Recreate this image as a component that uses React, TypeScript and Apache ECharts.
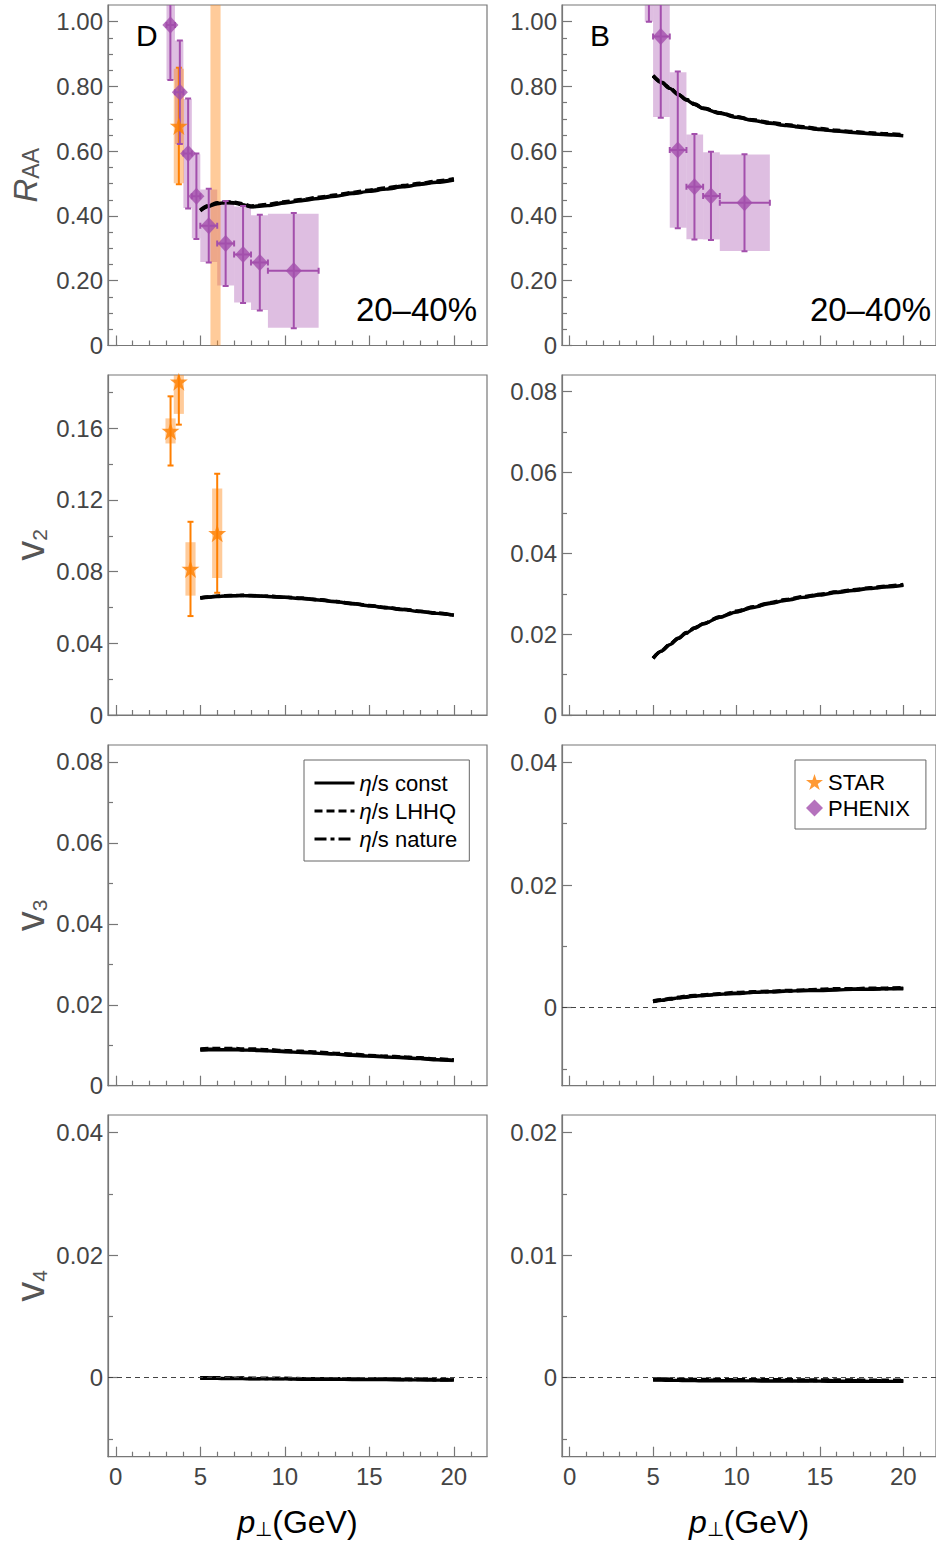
import React, { useEffect, useRef } from 'react';
import * as echarts from 'echarts';

const FONT = '"Liberation Sans", Arial, Helvetica, sans-serif';
const AXIS = '#777';
const LABEL = '#444';
const PURPLE = '#a34fac';
const PURPLE_BOX = 'rgba(167, 84, 176, 0.38)';
const ORANGE = '#ff7f00';
const ORANGE_BOX = 'rgba(255, 140, 30, 0.45)';
const STAR_PATH =
    'path://M50,0 L61.2,34.5 L97.6,34.5 L68.2,55.9 L79.4,90.5 L50,69.1 L20.6,90.5 L31.8,55.9 L2.4,34.5 L38.8,34.5 Z';

// x axis ticks (pT, GeV)
const xMajor = [0, 5, 10, 15, 20];
const xMinor = [1, 2, 3, 4, 6, 7, 8, 9, 11, 12, 13, 14, 16, 17, 18, 19, 21];

// y axis ticks
const raaMajor = [0, 0.2, 0.4, 0.6, 0.8, 1.0];
const raaMinor = [0.05, 0.1, 0.15, 0.25, 0.3, 0.35, 0.45, 0.5, 0.55, 0.65, 0.7, 0.75, 0.85, 0.9, 0.95];
const v2DMajor = [0, 0.04, 0.08, 0.12, 0.16];
const v2DMinor = [0.02, 0.06, 0.1, 0.14, 0.18];
const v2BMajor = [0, 0.02, 0.04, 0.06, 0.08];
const v2BMinor = [0.01, 0.03, 0.05, 0.07];
const v3DMajor = [0, 0.02, 0.04, 0.06, 0.08];
const v3DMinor = [0.01, 0.03, 0.05, 0.07];
const v3BMajor = [0, 0.02, 0.04];
const v3BMinor = [-0.01, 0.01, 0.03];
const v4DMajor = [0, 0.02, 0.04];
const v4DMinor = [-0.01, 0.01, 0.03];
const v4BMajor = [0, 0.01, 0.02];
const v4BMinor = [-0.005, 0.005, 0.015];

// model curves, pT grid
const curvePt = [5, 5.5, 6, 6.5, 7, 7.5, 8, 9, 10, 11, 12, 13, 14, 15, 16, 17, 18, 19, 20];

const raaDConst = [0.416, 0.43, 0.438, 0.441, 0.44, 0.435, 0.428, 0.432, 0.44, 0.447, 0.454, 0.461, 0.469, 0.476, 0.483, 0.49, 0.497, 0.504, 0.511];
const raaDLhhq = [0.419, 0.433, 0.441, 0.444, 0.443, 0.438, 0.431, 0.436, 0.444, 0.451, 0.458, 0.465, 0.473, 0.48, 0.487, 0.494, 0.501, 0.508, 0.515];
const raaDNature = [0.417, 0.431, 0.439, 0.442, 0.441, 0.436, 0.429, 0.434, 0.442, 0.449, 0.456, 0.463, 0.471, 0.478, 0.485, 0.492, 0.499, 0.506, 0.513];

const raaBConst = [0.832, 0.812, 0.794, 0.775, 0.758, 0.744, 0.732, 0.717, 0.705, 0.695, 0.686, 0.679, 0.673, 0.667, 0.662, 0.658, 0.654, 0.651, 0.648];
const raaBLhhq = [0.834, 0.814, 0.796, 0.777, 0.76, 0.746, 0.734, 0.719, 0.707, 0.697, 0.689, 0.682, 0.676, 0.67, 0.665, 0.661, 0.657, 0.654, 0.651];
const raaBNature = [0.833, 0.813, 0.795, 0.776, 0.759, 0.745, 0.733, 0.718, 0.706, 0.696, 0.687, 0.68, 0.674, 0.668, 0.663, 0.659, 0.655, 0.652, 0.649];

const v2DConst = [0.0652, 0.0657, 0.0661, 0.0664, 0.0665, 0.0666, 0.0665, 0.0661, 0.0656, 0.065, 0.0642, 0.0632, 0.0621, 0.0609, 0.0598, 0.0588, 0.0577, 0.0567, 0.0556];
const v2DLhhq = [0.0654, 0.0659, 0.0663, 0.0666, 0.0667, 0.0668, 0.0667, 0.0663, 0.0658, 0.0652, 0.0644, 0.0634, 0.0623, 0.0611, 0.06, 0.059, 0.0579, 0.0569, 0.0558];
const v2DNature = [0.0653, 0.0658, 0.0662, 0.0665, 0.0666, 0.0667, 0.0666, 0.0662, 0.0657, 0.0651, 0.0643, 0.0633, 0.0622, 0.061, 0.0599, 0.0589, 0.0578, 0.0568, 0.0557];

const v2BConst = [0.014, 0.0158, 0.0174, 0.0189, 0.0203, 0.0215, 0.0225, 0.0242, 0.0255, 0.0266, 0.0276, 0.0284, 0.0291, 0.0297, 0.0303, 0.0308, 0.0313, 0.0317, 0.0321];
const v2BLhhq = [0.0141, 0.0159, 0.0175, 0.019, 0.0204, 0.0216, 0.0226, 0.0243, 0.0257, 0.0268, 0.0278, 0.0286, 0.0293, 0.0299, 0.0305, 0.031, 0.0315, 0.0319, 0.0323];
const v2BNature = [0.014, 0.0158, 0.0174, 0.019, 0.0203, 0.0215, 0.0226, 0.0242, 0.0256, 0.0267, 0.0277, 0.0285, 0.0292, 0.0298, 0.0304, 0.0309, 0.0314, 0.0318, 0.0322];

const v3DConst = [0.0088, 0.0089, 0.0089, 0.0089, 0.0089, 0.0088, 0.0088, 0.0086, 0.0084, 0.0082, 0.008, 0.0078, 0.0075, 0.0073, 0.0071, 0.0069, 0.0067, 0.0064, 0.0062];
const v3DLhhq = [0.0091, 0.0092, 0.0092, 0.0092, 0.0092, 0.0091, 0.0091, 0.0089, 0.0087, 0.0085, 0.0083, 0.008, 0.0078, 0.0075, 0.0073, 0.0071, 0.0069, 0.0066, 0.0064];
const v3DNature = [0.0089, 0.009, 0.009, 0.009, 0.009, 0.0089, 0.0089, 0.0087, 0.0085, 0.0083, 0.0081, 0.0079, 0.0076, 0.0074, 0.0072, 0.007, 0.0068, 0.0065, 0.0063];

const v3BConst = [0.001, 0.0012, 0.0014, 0.0016, 0.0017, 0.0019, 0.002, 0.0022, 0.0023, 0.0025, 0.0026, 0.0027, 0.0028, 0.0028, 0.0029, 0.003, 0.003, 0.0031, 0.0031];
const v3BLhhq = [0.0011, 0.0013, 0.0015, 0.0017, 0.0019, 0.002, 0.0021, 0.0023, 0.0025, 0.0026, 0.0027, 0.0028, 0.0029, 0.003, 0.0031, 0.0031, 0.0032, 0.0032, 0.0033];
const v3BNature = [0.001, 0.0012, 0.0014, 0.0016, 0.0018, 0.0019, 0.002, 0.0022, 0.0024, 0.0025, 0.0026, 0.0027, 0.0028, 0.0029, 0.003, 0.003, 0.0031, 0.0031, 0.0032];

const v4DConst = [-0.0001, -0.0001, -0.0001, -0.00015, -0.00015, -0.00015, -0.0002, -0.0002, -0.0002, -0.00025, -0.00025, -0.00025, -0.0003, -0.0003, -0.0003, -0.00035, -0.00035, -0.0004, -0.0004];
const v4DLhhq = [0, 0, 0, -0.00005, -0.00005, -0.00005, -0.0001, -0.0001, -0.0001, -0.00015, -0.00015, -0.00015, -0.0002, -0.0002, -0.0002, -0.00025, -0.00025, -0.0003, -0.0003];
const v4DNature = [-0.00005, -0.00005, -0.00005, -0.0001, -0.0001, -0.0001, -0.00015, -0.00015, -0.00015, -0.0002, -0.0002, -0.0002, -0.00025, -0.00025, -0.00025, -0.0003, -0.0003, -0.00035, -0.00035];

const v4BConst = [-0.0002, -0.0002, -0.00022, -0.00022, -0.00024, -0.00024, -0.00025, -0.00025, -0.00026, -0.00026, -0.00027, -0.00027, -0.00028, -0.00028, -0.00029, -0.00029, -0.0003, -0.0003, -0.0003];
const v4BLhhq = [-0.0001, -0.0001, -0.00012, -0.00012, -0.00014, -0.00014, -0.00015, -0.00015, -0.00016, -0.00016, -0.00017, -0.00017, -0.00018, -0.00018, -0.00019, -0.00019, -0.0002, -0.0002, -0.0002];
const v4BNature = [-0.00015, -0.00015, -0.00017, -0.00017, -0.00019, -0.00019, -0.0002, -0.0002, -0.00021, -0.00021, -0.00022, -0.00022, -0.00023, -0.00023, -0.00024, -0.00024, -0.00025, -0.00025, -0.00025];

// PHENIX D meson R_AA
const phenixDPt = [3.23, 3.79, 4.28, 4.77, 5.5, 6.5, 7.53, 8.52, 10.53];
const phenixDRaa = [0.99, 0.782, 0.593, 0.461, 0.37, 0.315, 0.281, 0.256, 0.231];
const phenixDStat = [0.17, 0.16, 0.17, 0.132, 0.114, 0.131, 0.15, 0.148, 0.178];
const phenixDSys = [0.17, 0.16, 0.168, 0.13, 0.112, 0.13, 0.148, 0.146, 0.176];
const phenixDBinLo = [3, 3.5, 4, 4.5, 5, 6, 7, 8, 9];
const phenixDBinHi = [3.5, 4, 4.5, 5, 6, 7, 8, 9, 12];

// PHENIX B meson R_AA
const phenixBPt = [4.75, 5.46, 6.48, 7.48, 8.47, 10.48];
const phenixBRaa = [1.15, 0.954, 0.604, 0.49, 0.462, 0.441];
const phenixBStat = [0.15, 0.251, 0.242, 0.163, 0.136, 0.15];
const phenixBSys = [0.15, 0.248, 0.24, 0.162, 0.135, 0.149];
const phenixBBinLo = [4.5, 5, 6, 7, 8, 9];
const phenixBBinHi = [5, 6, 7, 8, 9, 12];

// STAR D meson R_AA and v2
const starRaaPt = [3.73, 5.9];
const starRaa = [0.678, 3.0];
const starRaaStat = [0.18, 1.5];
const starRaaSys = [0.177, 3.1];
const starV2Pt = [3.24, 3.73, 4.42, 6.0];
const starV2 = [0.1585, 0.186, 0.0815, 0.1014];
const starV2Stat = [0.0193, 0.024, 0.0263, 0.0332];
const starV2Sys = [0.007, 0.018, 0.0149, 0.025];

const CONST = 'η/s const';
const LHHQ = 'η/s LHHQ';
const NATURE = 'η/s nature';

const colLeft = [108, 562];
const rowTop = [5, 375, 745, 1115];
const rowHeight = [340.5, 340, 340.7, 341.7];
const X_MIN = -0.46;
const X_MAX = 21.96;

const panels = [
    { yMin: 0, yMax: 1.0516, major: raaMajor, minor: raaMinor, curves: [raaDConst, raaDLhhq, raaDNature], zero: false },
    { yMin: 0, yMax: 1.0516, major: raaMajor, minor: raaMinor, curves: [raaBConst, raaBLhhq, raaBNature], zero: false },
    { yMin: 0, yMax: 0.1897, major: v2DMajor, minor: v2DMinor, curves: [v2DConst, v2DLhhq, v2DNature], zero: false },
    { yMin: 0, yMax: 0.08413, major: v2BMajor, minor: v2BMinor, curves: [v2BConst, v2BLhhq, v2BNature], zero: false },
    { yMin: 0, yMax: 0.0842, major: v3DMajor, minor: v3DMinor, curves: [v3DConst, v3DLhhq, v3DNature], zero: false },
    { yMin: -0.01271, yMax: 0.04282, major: v3BMajor, minor: v3BMinor, curves: [v3BConst, v3BLhhq, v3BNature], zero: true },
    { yMin: -0.0129, yMax: 0.04289, major: v4DMajor, minor: v4DMinor, curves: [v4DConst, v4DLhhq, v4DNature], zero: true },
    { yMin: -0.00645, yMax: 0.021445, major: v4BMajor, minor: v4BMinor, curves: [v4BConst, v4BLhhq, v4BNature], zero: true },
];

const yTitles = ['{i|R}{s|AA}', '{v|v}{s|2}', '{v|v}{s|3}', '{v|v}{s|4}'];

const fmt = (v: number) => (v === 0 ? '0' : v.toFixed(2));

function boxSeries(idx: number, data: number[][], fill: string) {
    // data: [xLo, xHi, yLo, yHi]
    return {
        type: 'custom',
        xAxisIndex: idx * 2,
        yAxisIndex: idx * 2,
        clip: true,
        silent: true,
        z: 2,
        data,
        renderItem: (_p: any, api: any) => {
            const a = api.coord([api.value(0), api.value(3)]);
            const b = api.coord([api.value(1), api.value(2)]);
            return {
                type: 'rect',
                shape: { x: a[0], y: a[1], width: b[0] - a[0], height: b[1] - a[1] },
                style: { fill },
            };
        },
    };
}

function errSeries(idx: number, data: number[][], color: string) {
    // data: [x, y, lo, hi, xLo, xHi]
    return {
        type: 'custom',
        xAxisIndex: idx * 2,
        yAxisIndex: idx * 2,
        clip: true,
        silent: true,
        z: 4,
        data,
        renderItem: (_p: any, api: any) => {
            const x = api.value(0);
            const y = api.value(1);
            const top = api.coord([x, api.value(3)]);
            const bot = api.coord([x, api.value(2)]);
            const l = api.coord([api.value(4), y]);
            const r = api.coord([api.value(5), y]);
            const style = { stroke: color, lineWidth: 2 };
            const c = 3;
            const children: any[] = [
                { type: 'line', shape: { x1: top[0], y1: top[1], x2: bot[0], y2: bot[1] }, style },
                { type: 'line', shape: { x1: top[0] - c, y1: top[1], x2: top[0] + c, y2: top[1] }, style },
                { type: 'line', shape: { x1: bot[0] - c, y1: bot[1], x2: bot[0] + c, y2: bot[1] }, style },
            ];
            if (r[0] - l[0] > 1) {
                children.push(
                    { type: 'line', shape: { x1: l[0], y1: l[1], x2: r[0], y2: r[1] }, style },
                    { type: 'line', shape: { x1: l[0], y1: l[1] - c, x2: l[0], y2: l[1] + c }, style },
                    { type: 'line', shape: { x1: r[0], y1: r[1] - c, x2: r[0], y2: r[1] + c }, style },
                );
            }
            return { type: 'group', children };
        },
    };
}

function buildOption() {
    const grid: any[] = [];
    const xAxis: any[] = [];
    const yAxis: any[] = [];
    const series: any[] = [];

    panels.forEach((p, i) => {
        const row = Math.floor(i / 2);
        const col = i % 2;
        const bottomRow = row === 3;
        grid.push({
            left: colLeft[col],
            top: rowTop[row],
            width: 379,
            height: rowHeight[row],
            show: true,
            borderColor: AXIS,
            borderWidth: 1.2,
            backgroundColor: 'transparent',
        });
        xAxis.push({
            type: 'value',
            gridIndex: i,
            min: X_MIN,
            max: X_MAX,
            position: 'bottom',
            axisLine: { show: true, onZero: false, lineStyle: { color: AXIS, width: 1.2 } },
            axisTick: { show: true, inside: true, length: 10, customValues: xMajor, lineStyle: { color: AXIS, width: 1.2 } },
            axisLabel: { show: bottomRow, customValues: xMajor, margin: 8, fontSize: 24, color: LABEL, fontFamily: FONT },
            splitLine: { show: false },
            name: bottomRow ? '{p|p}{s|⊥}{g|(GeV)}' : '',
            nameLocation: 'middle',
            nameGap: 48,
            nameTextStyle: {
                color: '#000',
                fontFamily: FONT,
                rich: {
                    p: { fontSize: 32, fontStyle: 'italic', fontFamily: FONT, color: '#000', lineHeight: 34 },
                    s: { fontSize: 20, fontFamily: FONT, color: '#000', lineHeight: 16, verticalAlign: 'bottom' },
                    g: { fontSize: 32, fontFamily: FONT, color: '#000', lineHeight: 34 },
                },
            },
        });
        xAxis.push({
            type: 'value',
            gridIndex: i,
            min: X_MIN,
            max: X_MAX,
            position: 'bottom',
            axisLine: { show: false, onZero: false },
            axisTick: { show: true, inside: true, length: 5, customValues: xMinor, lineStyle: { color: AXIS, width: 1.2 } },
            axisLabel: { show: false },
            splitLine: { show: false },
        });
        yAxis.push({
            type: 'value',
            gridIndex: i,
            min: p.yMin,
            max: p.yMax,
            position: 'left',
            axisLine: { show: true, onZero: false, lineStyle: { color: AXIS, width: 1.2 } },
            axisTick: { show: true, inside: true, length: 10, customValues: p.major, lineStyle: { color: AXIS, width: 1.2 } },
            axisLabel: { show: true, customValues: p.major, formatter: fmt, margin: 5, fontSize: 24, color: LABEL, fontFamily: FONT },
            splitLine: { show: false },
            name: col === 0 ? yTitles[row] : '',
            nameLocation: 'middle',
            nameRotate: 90,
            nameGap: row === 0 ? 66 : 58,
            nameTextStyle: {
                color: '#555',
                fontFamily: FONT,
                rich: {
                    i: { fontSize: 33, fontStyle: 'italic', fontFamily: FONT, color: '#555', lineHeight: 34 },
                    v: { fontSize: 40, fontFamily: FONT, color: '#555', lineHeight: 40 },
                    s: { fontSize: row === 0 ? 23 : 21, fontFamily: FONT, color: '#555', lineHeight: row === 0 ? 14 : 24, verticalAlign: 'bottom' },
                },
            },
        });
        yAxis.push({
            type: 'value',
            gridIndex: i,
            min: p.yMin,
            max: p.yMax,
            position: 'left',
            axisLine: { show: false, onZero: false },
            axisTick: { show: true, inside: true, length: 5, customValues: p.minor, lineStyle: { color: AXIS, width: 1.2 } },
            axisLabel: { show: false },
            splitLine: { show: false },
        });

        const names = [CONST, LHHQ, NATURE];
        const types: any[] = ['solid', [8, 4], [12, 4, 4, 4]];
        p.curves.forEach((c, k) => {
            const s: any = {
                type: 'line',
                name: names[k],
                xAxisIndex: i * 2,
                yAxisIndex: i * 2,
                data: curvePt.map((x, j) => [x, c[j]]),
                symbol: 'none',
                smooth: 0.3,
                smoothMonotone: 'x',
                z: 3,
                itemStyle: { color: '#000' },
                lineStyle: { color: '#000', width: 3.4, type: types[k] },
                emphasis: { disabled: true },
            };
            if (k === 0 && p.zero) {
                s.markLine = {
                    silent: true,
                    symbol: 'none',
                    label: { show: false },
                    lineStyle: { color: '#444', width: 1, type: [5, 4] },
                    data: [{ yAxis: 0 }],
                };
            }
            series.push(s);
        });
    });

    // experimental data
    const box = (pt: number[], y: number[], sys: number[], lo: number[] | null, hi: number[] | null) =>
        pt.map((x, j) => [lo ? lo[j] : x - 0.3, hi ? hi[j] : x + 0.3, y[j] - sys[j], y[j] + sys[j]]);
    const err = (pt: number[], y: number[], st: number[], lo: number[] | null, hi: number[] | null) =>
        pt.map((x, j) => [x, y[j], y[j] - st[j], y[j] + st[j], lo ? lo[j] : x, hi ? hi[j] : x]);
    const pts = (pt: number[], y: number[]) => pt.map((x, j) => [x, y[j]]);

    series.push(
        boxSeries(0, box(phenixDPt, phenixDRaa, phenixDSys, phenixDBinLo, phenixDBinHi), PURPLE_BOX),
        boxSeries(0, box(starRaaPt, starRaa, starRaaSys, null, null), ORANGE_BOX),
        boxSeries(1, box(phenixBPt, phenixBRaa, phenixBSys, phenixBBinLo, phenixBBinHi), PURPLE_BOX),
        boxSeries(2, box(starV2Pt, starV2, starV2Sys, null, null), ORANGE_BOX),
        errSeries(0, err(starRaaPt, starRaa, starRaaStat, null, null), ORANGE),
        errSeries(0, err(phenixDPt, phenixDRaa, phenixDStat, phenixDBinLo, phenixDBinHi), PURPLE),
        errSeries(1, err(phenixBPt, phenixBRaa, phenixBStat, phenixBBinLo, phenixBBinHi), PURPLE),
        errSeries(2, err(starV2Pt, starV2, starV2Stat, null, null), ORANGE),
    );

    const starMarker = (idx: number, data: number[][]) => ({
        type: 'scatter',
        name: 'STAR',
        xAxisIndex: idx * 2,
        yAxisIndex: idx * 2,
        symbol: STAR_PATH,
        symbolSize: 18,
        clip: true,
        z: 5,
        itemStyle: { color: ORANGE },
        emphasis: { disabled: true },
        data,
    });
    const phenixMarker = (idx: number, data: number[][]) => ({
        type: 'scatter',
        name: 'PHENIX',
        xAxisIndex: idx * 2,
        yAxisIndex: idx * 2,
        symbol: 'diamond',
        symbolSize: [16, 17],
        clip: true,
        z: 5,
        itemStyle: { color: PURPLE },
        emphasis: { disabled: true },
        data,
    });
    series.push(
        starMarker(0, pts(starRaaPt, starRaa)),
        phenixMarker(0, pts(phenixDPt, phenixDRaa)),
        phenixMarker(1, pts(phenixBPt, phenixBRaa)),
        starMarker(2, pts(starV2Pt, starV2)),
    );

    const legendText = {
        fontSize: 22,
        color: '#000',
        fontFamily: FONT,
        rich: { i: { fontSize: 22, fontStyle: 'italic', color: '#000', fontFamily: FONT } },
    };

    return {
        animation: false,
        backgroundColor: '#fff',
        textStyle: { fontFamily: FONT },
        grid,
        xAxis,
        yAxis,
        legend: [
            {
                data: [CONST, LHHQ, NATURE],
                left: 304,
                top: 760,
                orient: 'vertical',
                itemWidth: 40,
                itemHeight: 14,
                itemGap: 6,
                padding: [12, 12, 11, 9],
                borderColor: '#666',
                borderWidth: 1,
                backgroundColor: '#fff',
                selectedMode: false,
                itemStyle: { opacity: 0 },
                lineStyle: { width: 3 },
                textStyle: legendText,
                formatter: (n: string) => n.replace('η', '{i|η}'),
            },
            {
                data: ['STAR', 'PHENIX'],
                left: 795,
                top: 760,
                orient: 'vertical',
                itemWidth: 17,
                itemHeight: 17,
                itemGap: 4,
                padding: [11, 16, 10, 11],
                borderColor: '#666',
                borderWidth: 1,
                backgroundColor: '#fff',
                selectedMode: false,
                textStyle: legendText,
            },
        ],
        graphic: [
            { type: 'text', x: 136, y: 35, style: { text: 'D', fontSize: 30, fontFamily: FONT, fill: '#000', verticalAlign: 'middle', textVerticalAlign: 'middle' } },
            { type: 'text', x: 590, y: 35, style: { text: 'B', fontSize: 30, fontFamily: FONT, fill: '#000', verticalAlign: 'middle', textVerticalAlign: 'middle' } },
            { type: 'text', x: 477, y: 309, style: { text: '20–40%', fontSize: 33, fontFamily: FONT, fill: '#000', align: 'right', textAlign: 'right', verticalAlign: 'middle', textVerticalAlign: 'middle' } },
            { type: 'text', x: 931, y: 309, style: { text: '20–40%', fontSize: 33, fontFamily: FONT, fill: '#000', align: 'right', textAlign: 'right', verticalAlign: 'middle', textVerticalAlign: 'middle' } },
        ],
        series,
    };
}

export default function App() {
    const chartRef = useRef<HTMLDivElement>(null);

    useEffect(() => {
        if (!chartRef.current) return;
        document.body.style.margin = '0';
        const chart = echarts.init(chartRef.current, null, { renderer: 'svg' });
        chart.setOption(buildOption() as any);
        return () => {
            chart.dispose();
        };
    }, []);

    return <div ref={chartRef} style={{ width: 936, height: 1542 }} />;
}
